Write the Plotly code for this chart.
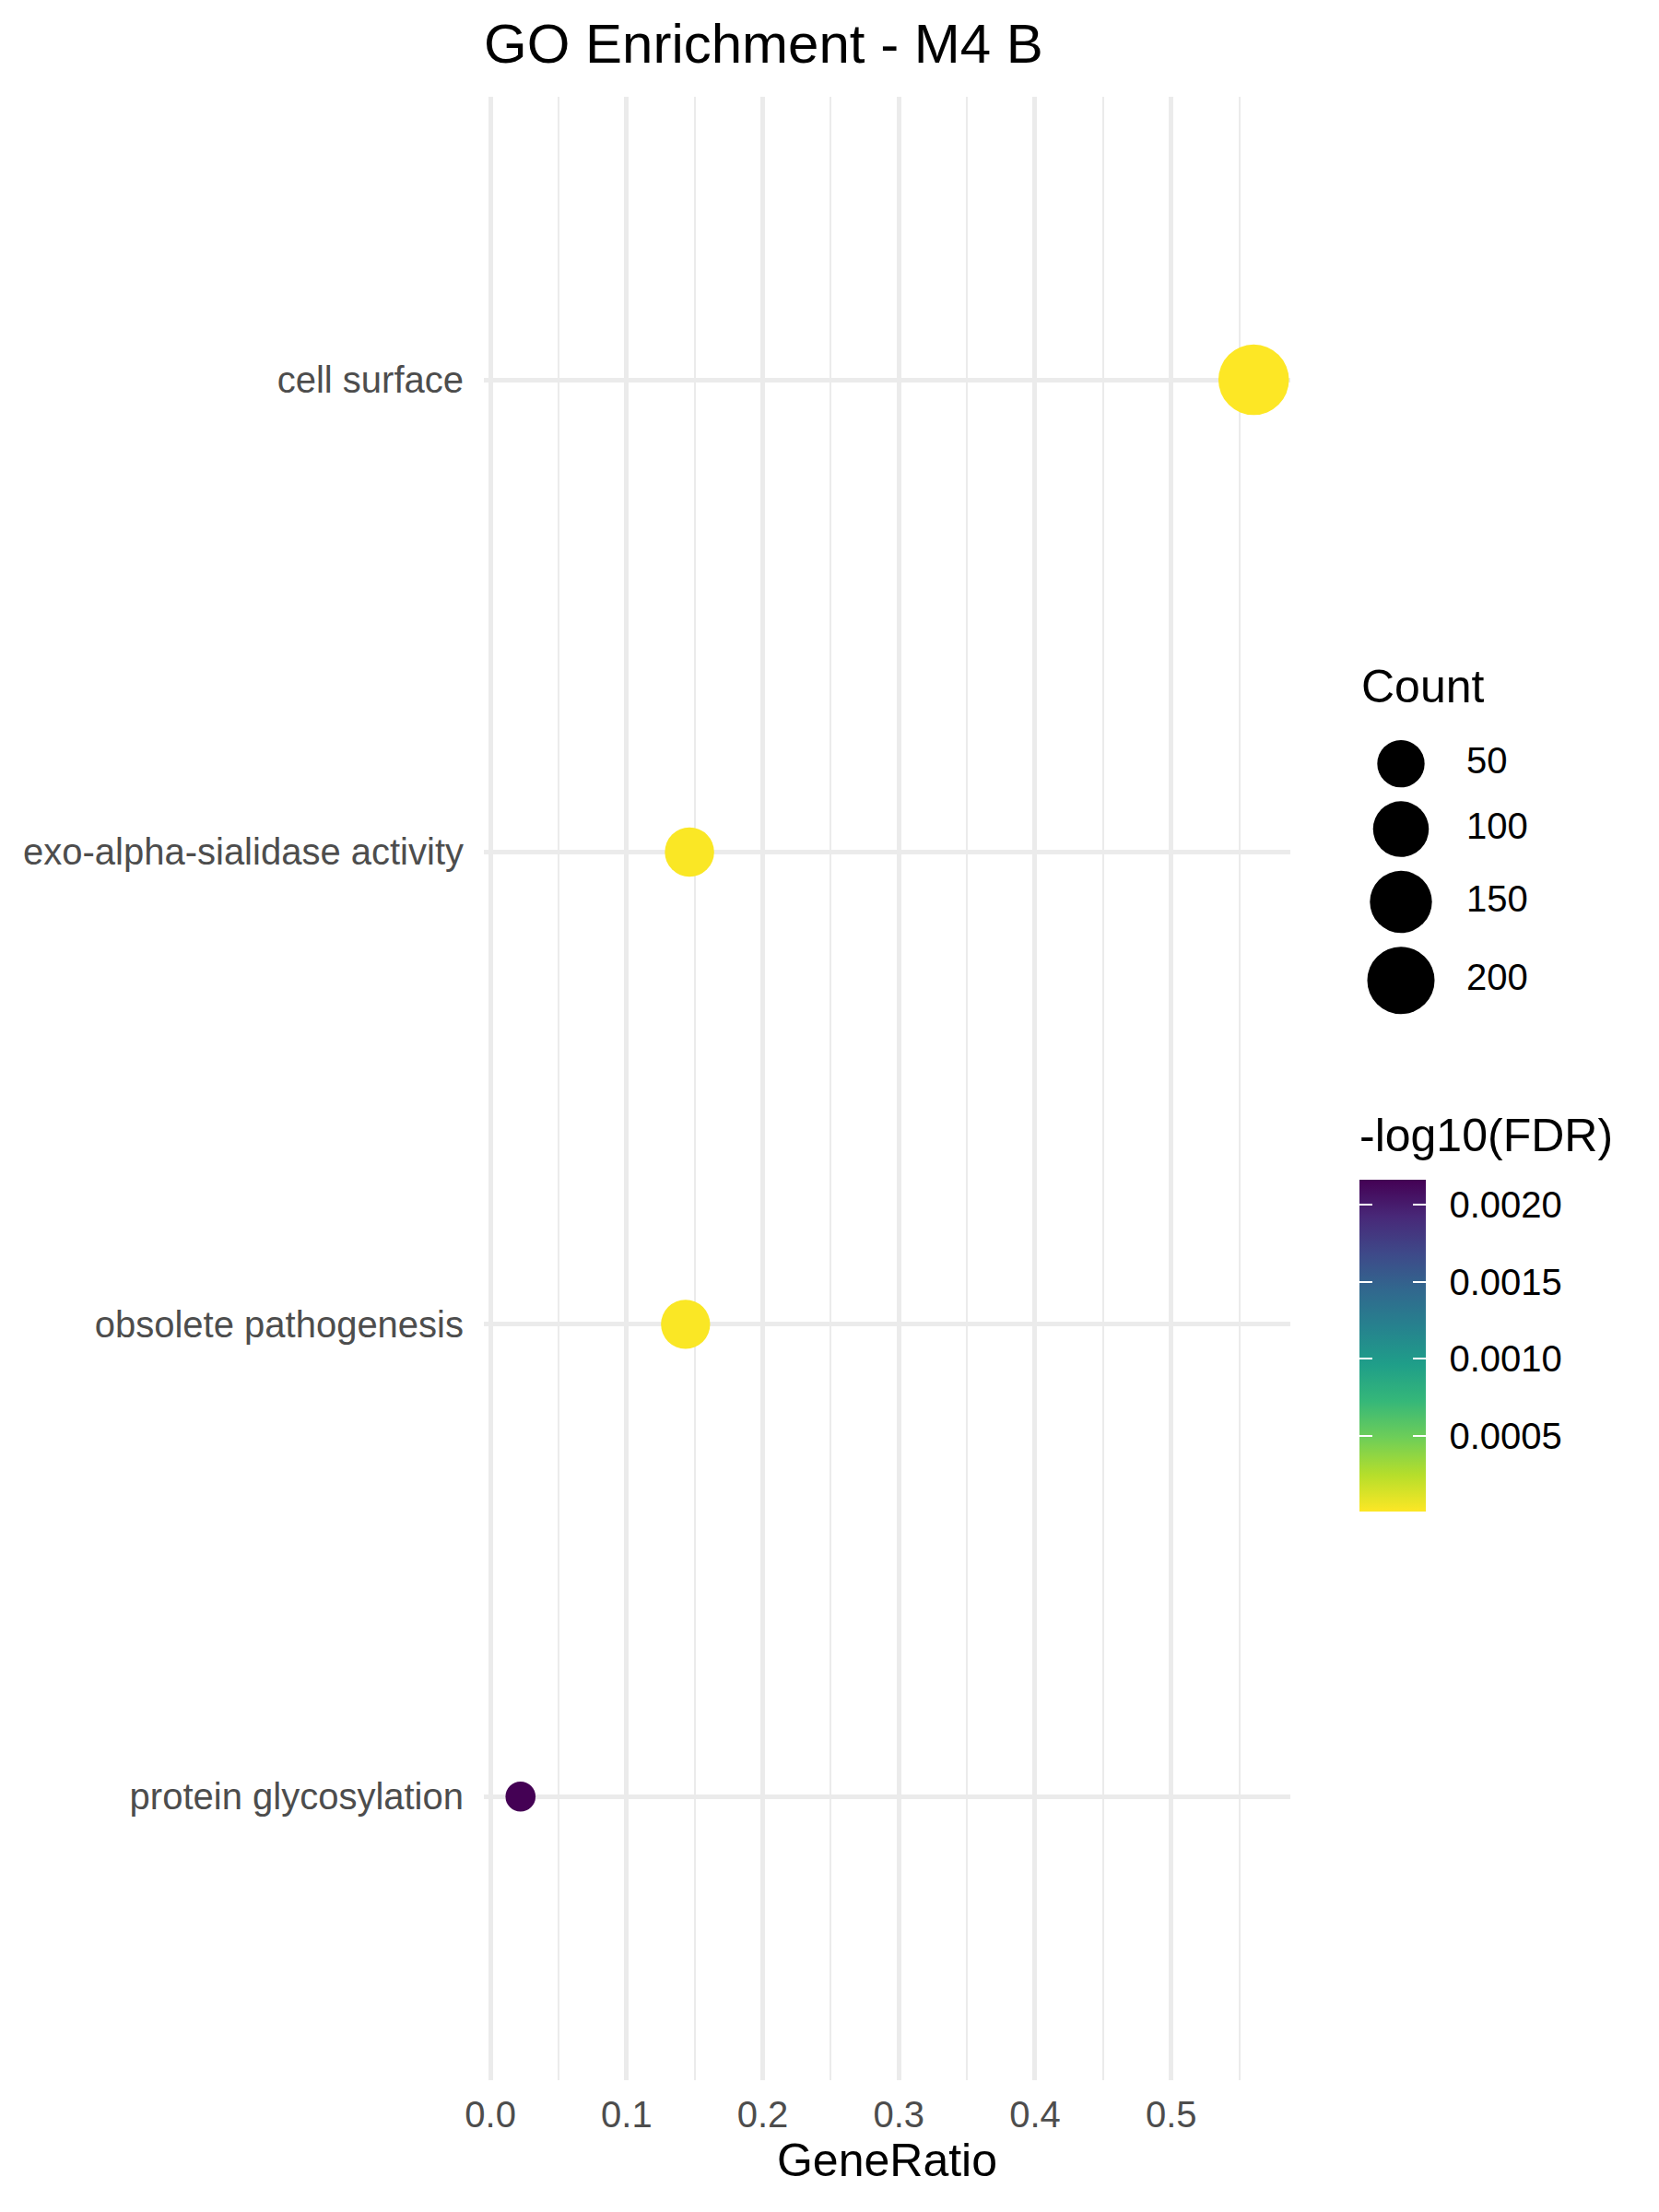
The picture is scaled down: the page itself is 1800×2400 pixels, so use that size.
import numpy as np
import plotly.graph_objects as go

# ---------------- data ----------------
terms = ["cell surface", "exo-alpha-sialidase activity",
         "obsolete pathogenesis", "protein glycosylation"]
gene_ratio = [0.5606, 0.1462, 0.1433, 0.0221]
counts = [235, 60, 59, 9]
neg_log10_fdr = [0.00001, 0.00002, 0.00002, 0.00216]

count_breaks = [50, 100, 150, 200]
count_break_labels = ["50", "100", "150", "200"]
fdr_breaks = [0.0005, 0.0010, 0.0015, 0.0020]
fdr_break_labels = ["0.0005", "0.0010", "0.0015", "0.0020"]
x_breaks = [0.0, 0.1, 0.2, 0.3, 0.4, 0.5]
x_break_labels = ["0.0", "0.1", "0.2", "0.3", "0.4", "0.5"]

# ---------------- styling ----------------
W, H = 1800, 2400
FONT = "Liberation Sans, Arial, Helvetica, sans-serif"
GRID = "#EBEBEB"
D_MIN, D_MAX = 32.6, 76.6  # marker diameter range (px), like scale_size(range=...)

cmin_c, cmax_c = min(counts), max(counts)


def size_of(c):
    c = np.asarray(c, dtype=float)
    return D_MIN + (D_MAX - D_MIN) * np.sqrt(np.clip((c - cmin_c) / (cmax_c - cmin_c), 0, 1))


def px_x(p):
    return p / W


def px_y(p):
    return 1 - p / H


# panel in pixels
P_L, P_R, P_T, P_B = 525, 1400, 104.6, 2256.7

# x range with 5% expansion
xr = max(gene_ratio) - min(gene_ratio)
x_range = [min(gene_ratio) - 0.05 * xr, max(gene_ratio) + 0.05 * xr]

cat_order = terms[::-1]  # first level at the bottom

fmin, fmax = min(neg_log10_fdr), max(neg_log10_fdr)

# colour bar geometry (pixels)
CB_L, CB_W, CB_TOP, CB_LEN = 1475, 72, 1280, 360
CB_BOTTOM = CB_TOP + CB_LEN
TICK_LEN = 14


def colorbar(x_left, thickness, labels):
    cb = dict(
        x=px_x(x_left), xanchor="left", xref="container",
        y=px_y(CB_BOTTOM), yanchor="bottom", yref="container",
        thickness=thickness, thicknessmode="pixels",
        len=CB_LEN, lenmode="pixels",
        xpad=0, ypad=0, outlinewidth=0,
        tickmode="array", tickvals=fdr_breaks, ticktext=fdr_break_labels,
    )
    if labels:
        cb.update(ticks="outside", ticklen=18, tickwidth=1, tickcolor="rgba(0,0,0,0)",
                  tickfont=dict(family=FONT, size=40, color="black"))
    else:
        cb.update(ticks="inside", ticklen=TICK_LEN, tickwidth=1.5, tickcolor="white",
                  showticklabels=False)
    return cb


def color_axis(x_left, thickness, labels):
    return dict(colorscale="Viridis", reversescale=True, cmin=fmin, cmax=fmax,
                showscale=True, colorbar=colorbar(x_left, thickness, labels))


fig = go.Figure()

fig.add_trace(go.Scatter(
    x=gene_ratio, y=terms, mode="markers",
    marker=dict(
        size=size_of(counts), sizemode="diameter", opacity=1,
        color=neg_log10_fdr, coloraxis="coloraxis",
        line=dict(width=0),
    ),
    showlegend=False, hoverinfo="x+y",
))

# invisible copies that only carry the white tick strips of the colour bar
for ca in ["coloraxis2", "coloraxis3"]:
    fig.add_trace(go.Scatter(
        x=gene_ratio, y=terms, mode="markers",
        marker=dict(size=1, opacity=0, color=neg_log10_fdr, coloraxis=ca),
        showlegend=False, hoverinfo="skip",
    ))

# ---- size legend (drawn on its own pixel-unit axes) ----
leg_d = size_of(count_breaks)
key_h = leg_d + 15
key_top = 795.5
centers = key_top + np.cumsum(key_h) - key_h / 2

fig.add_trace(go.Scatter(
    x=[1520] * len(count_breaks), y=centers, mode="markers",
    marker=dict(size=leg_d, sizemode="diameter", color="black", opacity=1,
                line=dict(width=0)),
    xaxis="x2", yaxis="y2", showlegend=False, hoverinfo="skip",
))
fig.add_trace(go.Scatter(
    x=[1591] * len(count_breaks), y=centers, mode="text",
    text=count_break_labels, textposition="middle right",
    textfont=dict(family=FONT, size=40, color="black"),
    xaxis="x2", yaxis="y2", showlegend=False, hoverinfo="skip",
))

annotations = [
    dict(text="Count", xref="paper", yref="paper",
         x=px_x(1475), y=px_y(745.5),
         xanchor="left", yanchor="middle", showarrow=False,
         font=dict(family=FONT, size=50, color="black")),
    dict(text="-log10(FDR)", xref="paper", yref="paper",
         x=px_x(1473), y=px_y(1232),
         xanchor="left", yanchor="middle", showarrow=False,
         font=dict(family=FONT, size=50, color="black")),
]

fig.update_layout(
    width=W, height=H,
    margin=dict(l=0, r=0, t=0, b=0, pad=0, autoexpand=False),
    paper_bgcolor="white", plot_bgcolor="rgba(0,0,0,0)",
    font=dict(family=FONT, color="black"),
    title=dict(text="GO Enrichment - M4 B", x=px_x(P_L), xref="container", xanchor="left",
               y=px_y(47), yref="container", yanchor="middle",
               font=dict(family=FONT, size=60, color="black")),
    coloraxis=color_axis(CB_L, CB_W, True),
    coloraxis2=color_axis(CB_L, TICK_LEN, False),
    coloraxis3=color_axis(CB_L + CB_W - TICK_LEN, TICK_LEN, False),
    xaxis=dict(
        domain=[px_x(P_L), px_x(P_R)],
        range=x_range, tickmode="array", tickvals=x_breaks, ticktext=x_break_labels,
        showgrid=True, gridcolor=GRID, gridwidth=4.5, zeroline=False, showline=False,
        ticks="", ticklabelstandoff=10,
        tickfont=dict(family=FONT, size=40, color="#4D4D4D"),
        minor=dict(dtick=0.05, tick0=0, showgrid=True, gridcolor=GRID, gridwidth=2.3),
        title=dict(text="GeneRatio", font=dict(family=FONT, size=50, color="black"), standoff=9),
        automargin=False,
    ),
    yaxis=dict(
        domain=[px_y(P_B), px_y(P_T)],
        type="category", categoryorder="array", categoryarray=cat_order,
        range=[-0.6, len(terms) - 0.4],
        showgrid=True, gridcolor=GRID, gridwidth=4.5, zeroline=False, showline=False,
        ticks="", ticklabelstandoff=21,
        tickfont=dict(family=FONT, size=40, color="#4D4D4D"),
        automargin=False,
    ),
    xaxis2=dict(domain=[px_x(1440), 1.0], range=[1440, 1800], visible=False,
                anchor="y2", fixedrange=True),
    yaxis2=dict(domain=[0, 1], range=[H, 0], visible=False, anchor="x2", fixedrange=True),
    annotations=annotations,
)

fig.write_html("out.html", config={"displayModeBar": False},
               post_script="document.body.style.margin='0px';")
